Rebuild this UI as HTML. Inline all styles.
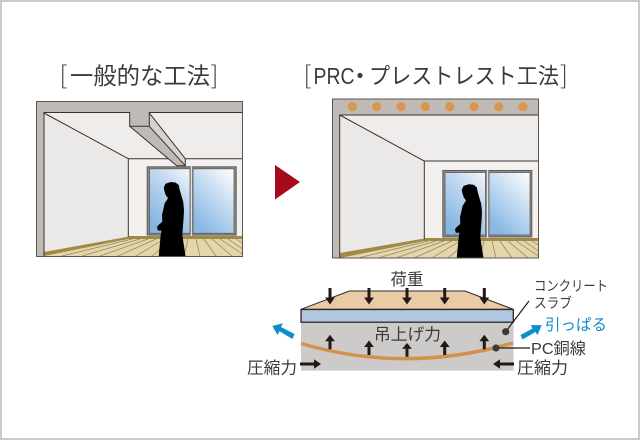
<!DOCTYPE html>
<html lang="ja">
<head>
<meta charset="utf-8">
<title>PRC・プレストレスト工法</title>
<style>
html,body{margin:0;padding:0;background:#fff}
svg{display:block}
text{font-family:"Liberation Sans","Noto Sans CJK JP",sans-serif;fill:#3e3a39}
.cjk{font-family:"Noto Sans CJK JP","Liberation Sans",sans-serif}
</style>
</head>
<body>
<svg width="640" height="440" viewBox="0 0 640 440" xmlns="http://www.w3.org/2000/svg">
<defs>
<linearGradient id="glassR" x1="1" y1="0" x2="0.35" y2="1"><stop offset="0" stop-color="#fff"/><stop offset="1" stop-color="#88b8e3"/></linearGradient>
<linearGradient id="glassA" x1="0.9" y1="0" x2="0.3" y2="1"><stop offset="0" stop-color="#eef4fb"/><stop offset="0.35" stop-color="#c3d9f0"/><stop offset="1" stop-color="#82b5e1"/></linearGradient>
<path id="person" d="M170.7 182 L175.5 182.5 L178.7 185 L180 191 L181.5 196 L183.2 201.7 L184 210 L183.6 218 L182.3 235 L185.5 256 L158.7 256 L160.7 235 L161.5 230.5 L157.8 230.5 L157 227 L158.5 225 L162.3 221.7 L162 215 L164.7 203.3 L168 198.3 L165.7 195 L164.7 192 L163.7 187.7 L165.5 183.7 Z" fill="#000"/>
<g id="floorL" stroke="#8f8160" stroke-width=".7">
<path d="M132 239L62 256M140 239L82 256M148 239L100 256M156 239L118 256M164 239L136 256M172 239L152 256M180 239L168 256M188 239L184 256M196 239L200 256M204 239L216 256M212 239L232 256M220 239L242.5 254M228 239L242.5 249M236 239L242.5 243"/>
</g>
</defs>

<rect x="1" y="1" width="638" height="438" fill="#fff" stroke="#c9caca" stroke-width="2"/>

<!-- titles -->
<text class="cjk" x="70" y="84" font-size="23.3" textLength="140" lengthAdjust="spacingAndGlyphs">一般的な工法</text>
<text class="cjk" x="59.5" y="84" font-size="25" style="font-weight:300">[</text>
<text class="cjk" x="210.5" y="84" font-size="25" style="font-weight:300">]</text>

<text class="cjk" x="303.5" y="84" font-size="25" style="font-weight:300">[</text>
<text x="313.5" y="84" font-size="23.5" textLength="41" lengthAdjust="spacingAndGlyphs">PRC</text>
<text class="cjk" x="350" y="83" font-size="20" style="font-weight:700">・</text>
<text class="cjk" x="369" y="84" font-size="22.5" textLength="190" lengthAdjust="spacingAndGlyphs">プレストレスト工法</text>
<text class="cjk" x="560" y="84" font-size="25" style="font-weight:300">]</text>

<!-- LEFT ROOM -->
<g>
<rect x="36.5" y="101.5" width="206" height="155" fill="#bfbab5"/>
<rect x="44" y="112.5" width="198.5" height="144" fill="#efedeb"/>
<polygon points="44,113 128.3,158.7 128.3,236.7 44,252" fill="#ebe9e7"/>
<rect x="128.3" y="158.7" width="114.2" height="78" fill="#f2f1ef"/>
<polygon points="128.3,236.7 242.5,236.7 242.5,256 44,256" fill="#e3d6aa"/>
<use href="#floorL"/>
<polygon points="44,252 128.3,236.7 128.3,239 44,256" fill="#a08a45"/>
<rect x="128.3" y="236" width="114.2" height="3" fill="#a08a45"/>
<!-- beam -->
<polygon points="129.7,126.3 149.3,126.3 185.3,165.7 176.7,165.7" fill="#bfbab5"/>
<polygon points="149.3,113 185.3,158.7 185.3,165.7 149.3,126.3" fill="#d6d3cf"/>
<rect x="129.7" y="112" width="19.6" height="14.3" fill="#bfbab5"/>
<g fill="none" stroke="#40302c" stroke-width="1">
<path d="M44 256V112.5H129.7V126.3H149.3V113L185.3 158.7V165.7"/>
<path d="M129.7 126.3L176.7 165.7H185.3L149.3 126.3"/>
<path d="M149.3 112.5H242.5"/>
<path d="M44 113L128.3 158.7V236.7"/>
<path d="M128.3 158.7H168M185.3 158.7H242.5"/>
</g>
<!-- window -->
<rect x="146.7" y="166.3" width="90" height="69.3" fill="#5f5a56"/>
<rect x="147.7" y="167.3" width="88" height="67.3" fill="#8f8b87"/>
<rect x="149.5" y="168.8" width="40.5" height="64.5" fill="url(#glassA)" stroke="#5f5a56" stroke-width=".8"/>
<rect x="193" y="168.8" width="41" height="64.5" fill="url(#glassR)" stroke="#5f5a56" stroke-width=".8"/>
<rect x="190.8" y="166.3" width="1.2" height="69.3" fill="#e6e4e2"/>
<use href="#person"/>
<rect x="36.5" y="101.5" width="206" height="155" fill="none" stroke="#5f5550" stroke-width="1"/>
</g>

<!-- ARROW -->
<polygon points="275,165 300,182 275,199.5" fill="#a40b1d"/>

<!-- RIGHT ROOM -->
<g>
<rect x="332.5" y="99" width="206" height="159" fill="#bfbab5"/>
<rect x="339.7" y="115" width="198.8" height="143" fill="#efedeb"/>
<polygon points="339.7,115 424.3,161 424.3,239.3 339.7,253" fill="#ebe9e7"/>
<rect x="424.3" y="161" width="114.2" height="78.3" fill="#f2f1ef"/>
<polygon points="424.3,239.3 538.5,239.3 538.5,258 340,258" fill="#e3d6aa"/>
<use href="#floorL" transform="translate(296 2)"/>
<polygon points="339.7,253 424.3,238.5 424.3,241 339.7,258" fill="#a08a45"/>
<rect x="424.3" y="238" width="114.2" height="3" fill="#a08a45"/>
<g fill="none" stroke="#40302c" stroke-width="1">
<path d="M339.7 258V115H538.5"/>
<path d="M339.7 115L424.3 161V239.3"/>
<path d="M424.3 161H538.5"/>
</g>
<rect x="442.3" y="170" width="90" height="67.5" fill="#5f5a56"/>
<rect x="443.3" y="171" width="88" height="65.5" fill="#8f8b87"/>
<rect x="445" y="172.5" width="40.5" height="62.5" fill="url(#glassA)" stroke="#5f5a56" stroke-width=".8"/>
<rect x="489" y="172.5" width="41" height="62.5" fill="url(#glassR)" stroke="#5f5a56" stroke-width=".8"/>
<rect x="487" y="170" width="1.2" height="67.5" fill="#e6e4e2"/>
<use href="#person" transform="translate(298 2.3)"/>
<g fill="#d9964f">
<circle cx="352.3" cy="106.7" r="4.6"/><circle cx="376.7" cy="106.7" r="4.6"/><circle cx="401" cy="106.7" r="4.6"/><circle cx="425.3" cy="106.7" r="4.6"/><circle cx="449.7" cy="106.7" r="4.6"/><circle cx="474" cy="106.7" r="4.6"/><circle cx="498.7" cy="106.7" r="4.6"/><circle cx="523" cy="106.7" r="4.6"/>
</g>
<rect x="332.5" y="99" width="206" height="159" fill="none" stroke="#5f5550" stroke-width="1"/>
</g>

<!-- SLAB DIAGRAM -->
<rect x="301" y="322" width="212.5" height="48.7" fill="#cdcbca"/>
<polygon points="301,309.3 349.3,291 465,291 513.3,309.3" fill="#e9cca6" stroke="#2f2725" stroke-width="1"/>
<rect x="301" y="309.5" width="212.3" height="12.7" fill="#b1c6e0" stroke="#2f2725" stroke-width="1.3"/>
<path d="M301 343.5Q405 374 513 343" fill="none" stroke="#d2914c" stroke-width="3.5"/>

<g fill="none" stroke="#231815" stroke-width="1.2">
<path d="M505.7 331.7L529 301"/>
<path d="M496 348H530"/>
</g>
<circle cx="505.7" cy="331.7" r="3.6" fill="#3e3a39"/>
<circle cx="496" cy="348" r="3.6" fill="#3e3a39"/>

<g fill="#231815">
<path d="M328.5 288h3v9.5h3.4L330 304.5 325.1 297.5h3.4z"/>
<path d="M367.5 288h3v9.5h3.4L369 304.5 364.1 297.5h3.4z"/>
<path d="M405.5 288h3v9.5h3.4L407 304.5 402.1 297.5h3.4z"/>
<path d="M443.2 288h3v9.5h3.4L444.7 304.5 439.8 297.5h3.4z"/>
<path d="M482.8 288h3v9.5h3.4L484.3 304.5 479.4 297.5h3.4z"/>
<path d="M328.5 349.3h3v-8h3.4L330 334.7 325.1 341.3h3.4z"/>
<path d="M367.5 355h3v-8h3.4L369 340.5 364.1 347h3.4z"/>
<path d="M405.5 356.7h3v-8h3.4L407 343 402.1 348.7h3.4z"/>
<path d="M443.2 355h3v-8h3.4L444.7 340.5 439.8 347h3.4z"/>
<path d="M482.8 349.3h3v-8h3.4L484.3 334.7 479.4 341.3h3.4z"/>
<path d="M300 362.5h14v-3.3l7 4.8-7 4.8v-3.3h-14z"/>
<path d="M514 362.5h-14v-3.3l-7 4.8 7 4.8v-3.3h14z"/>
</g>
<g fill="#0f8ccb">
<path d="M294.5 334L281 327 283 323.3 272.3 326 277.5 335 279.5 331.3 292.5 339z"/>
<path d="M520.5 335L532.5 328.5 531 325 541.7 325.3 537.5 335 535.5 332 522.5 339.5z"/>
</g>

<!-- labels -->
<text x="390.5" y="285" font-size="16.5">荷重</text>
<text x="374" y="340" font-size="16.5" textLength="67" lengthAdjust="spacingAndGlyphs">吊上げ力</text>
<text x="247" y="373.5" font-size="16.5" textLength="50" lengthAdjust="spacingAndGlyphs">圧縮力</text>
<text x="517" y="373.5" font-size="16.5" textLength="51" lengthAdjust="spacingAndGlyphs">圧縮力</text>
<text x="534" y="291" font-size="14" textLength="74" lengthAdjust="spacingAndGlyphs">コンクリート</text>
<text x="534" y="308" font-size="14" textLength="38" lengthAdjust="spacingAndGlyphs">スラブ</text>
<text x="545" y="330" font-size="15.5" textLength="62" lengthAdjust="spacingAndGlyphs" style="fill:#0f8ccb">引っぱる</text>
<text x="531" y="354" font-size="16" textLength="55" lengthAdjust="spacingAndGlyphs">PC銅線</text>
</svg>
</body>
</html>
